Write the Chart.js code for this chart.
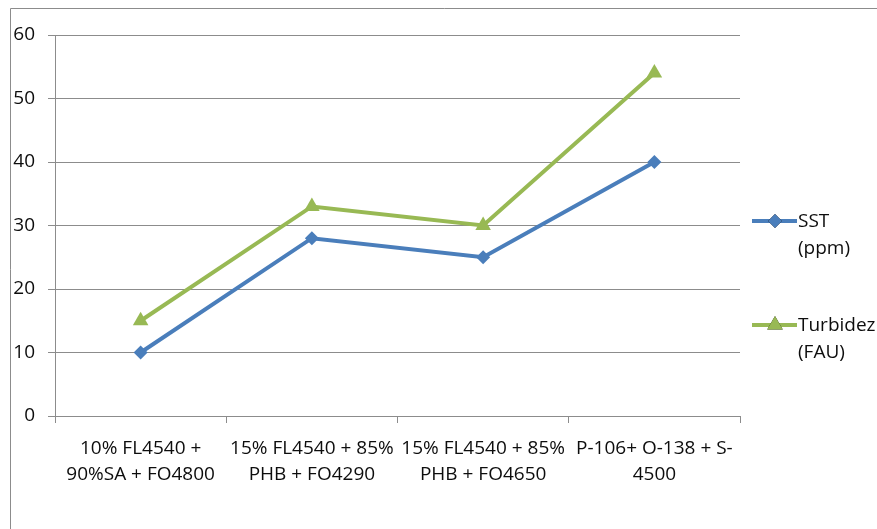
<!DOCTYPE html>
<html>
<head>
<meta charset="utf-8">
<script src="https://cdn.jsdelivr.net/npm/chart.js@4/dist/chart.umd.min.js"></script>
<style>
  html, body { margin: 0; padding: 0; background: #fff; overflow: hidden; }
  #wrap { width: 877px; height: 529px; position: relative; }
</style>
</head>
<body>
<div id="wrap"><canvas id="c" width="877" height="529"></canvas></div>
<script>
const categories = [
  ["10% FL4540 +", "90%SA + FO4800"],
  ["15% FL4540 + 85%", "PHB + FO4290"],
  ["15% FL4540 + 85%", "PHB + FO4650"],
  ["P-106+ O-138 + S-", "4500"]
];
const sstValues = [10, 28, 25, 40];
const turbidezValues = [15, 33, 30, 54];
const sstLabel = ["SST", "(ppm)"];
const turbidezLabel = ["Turbidez", "(FAU)"];
const yTicks = [0, 10, 20, 30, 40, 50, 60];

const FONT = "'Open Sans', Lato, sans-serif";
const GRID = "#8c8c8c";
const TEXT = "#0d0d0d";

// Outer frame of the chart object
const framePlugin = {
  id: 'frame',
  beforeDraw(chart) {
    const ctx = chart.ctx;
    ctx.save();
    ctx.strokeStyle = GRID;
    ctx.lineWidth = 1;
    ctx.beginPath();
    ctx.moveTo(10.5, chart.height + 5);
    ctx.lineTo(10.5, 8.5);
    ctx.lineTo(chart.width + 5, 8.5);
    ctx.stroke();
    ctx.restore();
  }
};

// Legend on the right with two-line labels
const sideLegend = {
  id: 'sideLegend',
  afterDraw(chart) {
    const ctx = chart.ctx;
    const rows = [221, 325];
    ctx.save();
    chart.data.datasets.forEach((ds, i) => {
      const y = rows[i];
      ctx.strokeStyle = ds.borderColor;
      ctx.lineWidth = ds.borderWidth;
      ctx.beginPath();
      ctx.moveTo(752, y);
      ctx.lineTo(797, y);
      ctx.stroke();
      Chart.helpers.drawPoint(ctx, {
        pointStyle: ds.pointStyle,
        radius: ds.pointRadius,
        rotation: 0,
        borderWidth: 0
      }, 775, y);
      ctx.fillStyle = ds.pointBackgroundColor;
      ctx.fill();
      ctx.fillStyle = TEXT;
      ctx.font = "19px " + FONT;
      ctx.textBaseline = 'middle';
      ctx.textAlign = 'left';
      ds.label.forEach((t, k) => ctx.fillText(t, 798, y + 1 + k * 27));
    });
    ctx.restore();
  }
};

new Chart(document.getElementById('c'), {
  type: 'line',
  data: {
    labels: categories,
    datasets: [
      {
        label: sstLabel,
        data: sstValues,
        borderColor: '#4a7ebb',
        backgroundColor: '#4a7ebb',
        pointBackgroundColor: '#4a7ebb',
        pointBorderColor: '#4a7ebb',
        borderWidth: 4,
        pointStyle: 'rectRot',
        pointRadius: 7,
        pointBorderWidth: 0,
        tension: 0
      },
      {
        label: turbidezLabel,
        data: turbidezValues,
        borderColor: '#98b954',
        backgroundColor: '#98b954',
        pointBackgroundColor: '#98b954',
        pointBorderColor: '#98b954',
        borderWidth: 4,
        pointStyle: 'triangle',
        pointRadius: 9,
        pointBorderWidth: 0,
        tension: 0
      }
    ]
  },
  options: {
    responsive: false,
    animation: false,
    devicePixelRatio: 1,
    layout: { padding: { left: 0, top: 35, right: 137, bottom: 0 } },
    plugins: {
      legend: { display: false },
      tooltip: { enabled: false }
    },
    scales: {
      x: {
        type: 'category',
        offset: true,
        grid: { offset: true, drawOnChartArea: false, color: GRID, tickLength: 7, lineWidth: 1 },
        border: { color: GRID, width: 1 },
        ticks: {
          autoSkip: false, maxRotation: 0, minRotation: 0, padding: 13,
          color: TEXT, font: { family: FONT, size: 19, lineHeight: 1.37 }
        },
        afterFit(s) { s.height = 113; }
      },
      y: {
        min: 0, max: 60,
        afterBuildTicks(s) { s.ticks = yTicks.map(v => ({ value: v })); },
        grid: { color: GRID, tickLength: 7, lineWidth: 1 },
        border: { color: GRID, width: 1 },
        ticks: { padding: 13, color: TEXT, font: { family: FONT, size: 19 } },
        afterFit(s) { s.width = 55; }
      }
    }
  },
  plugins: [framePlugin, sideLegend]
});
</script>
</body>
</html>
